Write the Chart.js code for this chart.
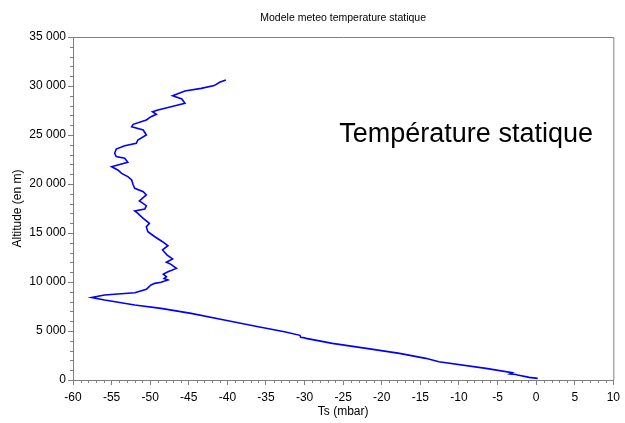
<!DOCTYPE html>
<html>
<head>
<meta charset="utf-8">
<script src="https://cdn.jsdelivr.net/npm/chart.js@4/dist/chart.umd.min.js"></script>
<style>
  html, body { margin: 0; padding: 0; background: #ffffff; }
  #wrap { width: 625px; height: 423px; }
</style>
</head>
<body>
<div id="wrap"><canvas id="c"></canvas></div>
<script>
// Static temperature profile: Ts value and altitude (m) along the sounding
const temperature = [
  0.2, -0.9, -2.4, -2.6, -3.4, -3.1, -6.5, -12.6, -14.3, -17.7, -22.0, -26.4, -29.8,
  -30.0, -30.5, -30.6, -32.6, -36.0, -40.4, -44.7, -48.6, -52.0, -55.9, -57.6,
  -55.9, -54.2, -52.0, -50.5, -49.9, -49.4, -48.6, -47.7, -48.2, -47.9, -48.3, -47.7,
  -46.6, -47.3, -47.9, -47.1, -47.8, -48.4, -47.7, -48.4, -49.4, -50.3, -50.5,
  -50.1, -50.9, -51.6, -52.0, -50.7, -50.5, -51.4, -50.5, -50.9, -52.0, -52.2,
  -52.4, -52.9, -53.7, -54.2, -55.0, -54.2, -52.9, -53.3, -54.4, -54.6, -54.4,
  -53.3, -51.8, -51.6, -50.5, -50.9, -52.4, -52.2, -50.5, -49.9, -49.2, -49.7,
  -49.0, -47.3, -45.5, -45.9, -47.1, -45.5, -43.4, -41.7, -41.0, -40.2
];
const altitude = [
  170, 270, 510, 560, 620, 740, 1190, 1870, 2210, 2720, 3230, 3740, 4250,
  4300, 4350, 4560, 4930, 5440, 6120, 6800, 7310, 7650, 8160, 8420,
  8670, 8780, 8910, 9250, 9690, 9860, 9970, 10200, 10350, 10540, 10800, 11050,
  11390, 11800, 12010, 12350, 12750, 13270, 13700, 14110, 14620, 15130, 15640,
  15990, 16500, 17010, 17250, 17450, 17790, 18270, 18880, 19220, 19560, 19900,
  20410, 20750, 21080, 21430, 21770, 21940, 22220, 22620, 22790, 23130, 23570,
  23910, 24150, 24490, 25000, 25510, 25850, 26090, 26530, 26870, 27110, 27380,
  27550, 27890, 28230, 28670, 29010, 29490, 29760, 30040, 30380, 30610
];
const xTickValues = [-60, -55, -50, -45, -40, -35, -30, -25, -20, -15, -10, -5, 0, 5, 10];
const yTickValues = [0, 5000, 10000, 15000, 20000, 25000, 30000, 35000];

const FONT = "'Liberation Sans', Arial, sans-serif";
const AXIS_GREY = '#7f7f7f';

const points = temperature.map((t, i) => ({ x: t, y: altitude[i] }));

// Minor ticks, frame on top/right and the in-plot caption
const decorations = {
  id: 'decorations',
  afterDraw(chart) {
    const { ctx, chartArea: a, scales: { x, y } } = chart;
    ctx.save();
    ctx.strokeStyle = AXIS_GREY;
    ctx.lineWidth = 1;
    ctx.beginPath();
    ctx.moveTo(a.left, a.top + 0.5);
    ctx.lineTo(a.right + 0.5, a.top + 0.5);
    ctx.lineTo(a.right + 0.5, a.bottom);
    for (let v = x.min; v <= x.max; v += 1) {
      if (v % 5 === 0) continue;
      const px = Math.round(x.getPixelForValue(v)) + 0.5;
      ctx.moveTo(px, a.bottom);
      ctx.lineTo(px, a.bottom + 3);
    }
    for (let v = y.min; v <= y.max; v += 1000) {
      if (v % 5000 === 0) continue;
      const py = Math.round(y.getPixelForValue(v)) + 0.5;
      ctx.moveTo(a.left, py);
      ctx.lineTo(a.left - 3, py);
    }
    ctx.stroke();

    ctx.fillStyle = '#000000';
    ctx.font = '27px ' + FONT;
    ctx.textAlign = 'left';
    ctx.textBaseline = 'middle';
    ctx.fillText('Température statique', x.getPixelForValue(-25.5), y.getPixelForValue(25000));
    ctx.restore();
  }
};

new Chart(document.getElementById('c'), {
  type: 'scatter',
  data: {
    datasets: [{
      data: points,
      showLine: true,
      borderColor: '#0000ff',
      borderWidth: 1.6,
      pointRadius: 0,
      tension: 0,
      fill: false
    }]
  },
  options: {
    responsive: true,
    maintainAspectRatio: false,
    animation: false,
    layout: { padding: { top: 0, right: 11, bottom: 0, left: 0 } },
    plugins: {
      legend: { display: false },
      tooltip: { enabled: false },
      title: {
        display: true,
        fullSize: false,
        text: 'Modele meteo temperature statique',
        color: '#000000',
        font: { family: FONT, size: 10.5, weight: 'normal' },
        padding: { top: 12, bottom: 12.4 }
      }
    },
    scales: {
      x: {
        type: 'linear',
        position: 'bottom',
        min: -60,
        max: 10,
        afterBuildTicks: s => { s.ticks = xTickValues.map(v => ({ value: v })); },
        afterFit: s => { s.height = 43; },
        grid: { display: true, drawOnChartArea: false, drawTicks: true, tickLength: 5, color: AXIS_GREY },
        border: { display: true, color: AXIS_GREY },
        ticks: {
          color: '#000000',
          font: { family: FONT, size: 12 },
          padding: 5,
          maxRotation: 0,
          autoSkip: false
        },
        title: {
          display: true,
          text: 'Ts (mbar)',
          color: '#000000',
          font: { family: FONT, size: 12 },
          padding: { top: 0, bottom: 4 }
        }
      },
      y: {
        type: 'linear',
        position: 'left',
        min: 0,
        max: 35000,
        afterBuildTicks: s => { s.ticks = yTickValues.map(v => ({ value: v })); },
        afterFit: s => { s.width = 73; },
        grid: { display: true, drawOnChartArea: false, drawTicks: true, tickLength: 5, color: AXIS_GREY },
        border: { display: true, color: AXIS_GREY },
        ticks: {
          color: '#000000',
          font: { family: FONT, size: 12 },
          padding: 2,
          autoSkip: false,
          callback: v => String(v).replace(/\B(?=(\d{3})+(?!\d))/g, ' ')
        },
        title: {
          display: true,
          text: 'Altitude (en m)',
          color: '#000000',
          font: { family: FONT, size: 12 },
          padding: { top: 10, bottom: 0 }
        }
      }
    }
  },
  plugins: [decorations]
});
</script>
</body>
</html>
